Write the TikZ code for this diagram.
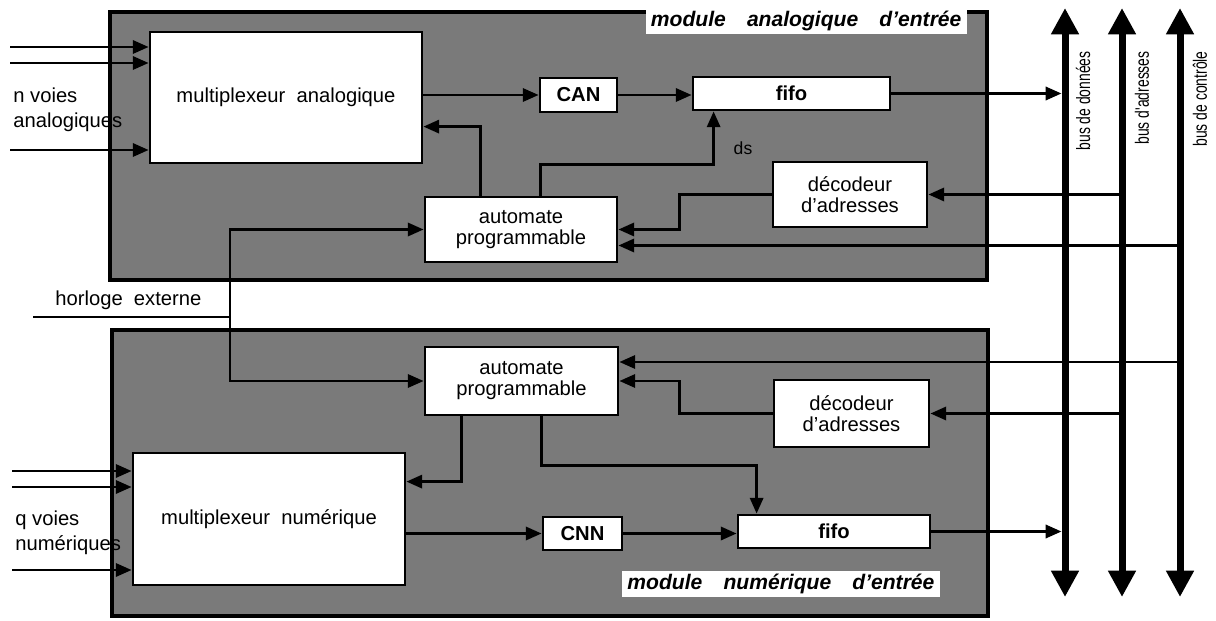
\documentclass[tikz,border=0pt]{standalone}
\usepackage{fontspec}
\setmainfont{Liberation Sans}
\newfontfamily\narrowsans{Liberation Sans}[FakeStretch=0.72]
\usepackage{tikz}
\usetikzlibrary{arrows.meta,calc,fit}
\definecolor{halftone}{gray}{0.48}

\begin{document}
\begin{tikzpicture}[x=0.02cm,y=-0.02cm,
  module/.style={draw=black,fill=halftone,line width=2pt,inner sep=0pt},
  unit/.style={draw=black,fill=white,line width=1.6pt,inner sep=0pt,
    align=center,font=\fontsize{11.5}{12}\selectfont},
  boldunit/.style={unit,font=\fontsize{11.5}{12}\selectfont\bfseries},
  tag/.style={fill=white,inner xsep=3pt,inner ysep=1.5pt,anchor=east,
    font=\fontsize{12}{14}\selectfont\bfseries\itshape},
  txt/.style={anchor=west,align=left,inner sep=0pt,
    font=\fontsize{11.5}{14}\selectfont},
  flow/.style={-{Triangle[length=9pt,width=7.5pt]},line width=1.6pt},
  wire/.style={line width=1.6pt},
  bus/.style={{Triangle[length=15pt,width=15pt]}-{Triangle[length=15pt,width=15pt]},
    line width=4pt},
  buslabel/.style={rotate=90,anchor=east,inner sep=0pt,
    font=\narrowsans\fontsize{11}{12}\selectfont}
]
  \useasboundingbox (0,0) rectangle (1216,621);

  % the two modules
  \node[module,fit={(110,12)(987,280)}] (modA) {};
  \node[module,fit={(112,330)(988,616)}] (modB) {};
  \node[tag] (tagA) at (967,21) {module\quad analogique\quad d'entr\'ee};
  \node[tag] (tagB) at (940,584) {module\quad num\'erique\quad d'entr\'ee};

  % module analogique
  \node[unit,minimum width=5.44cm,minimum height=2.62cm] (muxA) at (286,97.5)
    {multiplexeur~~analogique};
  \node[boldunit,minimum width=1.54cm,minimum height=0.68cm] (canA) at (578.5,95)
    {CAN};
  \node[boldunit,minimum width=3.94cm,minimum height=0.66cm] (fifoA) at (791.5,93.5)
    {fifo};
  \node[unit,minimum width=3.84cm,minimum height=1.30cm] (autoA) at (521,229.5)
    {automate\\programmable};
  \node[unit,minimum width=3.08cm,minimum height=1.30cm] (decA) at (850,194.5)
    {d\'ecodeur\\d'adresses};
  \node[font=\fontsize{10}{12}\selectfont] (dsA) at (743,148) {ds};

  % module numerique
  \node[unit,minimum width=5.44cm,minimum height=2.64cm] (muxB) at (269,519)
    {multiplexeur~~num\'erique};
  \node[boldunit,minimum width=1.58cm,minimum height=0.66cm] (cnnB) at (582.5,533.5)
    {CNN};
  \node[boldunit,minimum width=3.84cm,minimum height=0.66cm] (fifoB) at (834,531.5)
    {fifo};
  \node[unit,minimum width=3.86cm,minimum height=1.36cm] (autoB) at (521.5,381)
    {automate\\programmable};
  \node[unit,minimum width=3.10cm,minimum height=1.34cm] (decB) at (851.5,413.5)
    {d\'ecodeur\\d'adresses};

  % entrees
  \node[txt] (voiesA) at (13,110) {n voies\\analogiques};
  \node[txt] (voiesB) at (15,533) {q voies\\num\'eriques};
  \foreach \y [count=\i] in {47,63,150} {
    \coordinate (inA\i) at (10,\y);
    \draw[flow] (inA\i) -- (inA\i -| muxA.west);
  }
  \foreach \y [count=\i] in {471,487,570} {
    \coordinate (inB\i) at (12,\y);
    \draw[flow] (inB\i) -- (inB\i -| muxB.west);
  }

  % horloge
  \coordinate (clk) at (33,317);
  \coordinate (clkJ) at (230,317);
  \node[txt] (clkT) at (55,300) {horloge~~externe};
  \draw[wire] (clk) -- (clkJ);
  \draw[flow] (clkJ) |- (autoA.west);
  \draw[flow] (clkJ) |- (autoB.west);

  % bus
  \coordinate (busDt) at (1065,8);  \coordinate (busDb) at (1065,597);
  \coordinate (busAt) at (1122,8);  \coordinate (busAb) at (1122,597);
  \coordinate (busCt) at (1180,8);  \coordinate (busCb) at (1180,597);

  % chaine analogique
  \draw[flow] (muxA.east |- canA.west) -- (canA.west);
  \draw[flow] (canA.east) -- (canA.east -| fifoA.west);
  \draw[flow,shorten >=2pt] (fifoA.east) -- (fifoA.east -| busDt);
  \draw[flow] ($(autoA.north west)+(57,0)$) |- ($(muxA.north east)+(0,96)$);
  \draw[flow] ($(autoA.north west)+(117,0)$) |- ($(fifoA.south west)+(22,53)$)
    -- ($(fifoA.south west)+(22,0)$);
  \draw[flow] (decA.west) -| ($(autoA.east)+(61,0)$) -- (autoA.east);
  \draw[flow] (busAt |- decA.east) -- (decA.east);
  \coordinate (ctlA) at ($(autoA.east)+(0,16)$);
  \draw[flow] (busCt |- ctlA) -- (ctlA);

  % chaine numerique
  \draw[flow] (muxB.east |- cnnB.west) -- (cnnB.west);
  \draw[flow] (cnnB.east) -- (cnnB.east -| fifoB.west);
  \draw[flow,shorten >=2pt] (fifoB.east) -- (fifoB.east -| busDt);
  \draw[flow] ($(autoB.south west)+(38,0)$) |- ($(muxB.north east)+(0,30)$);
  \draw[flow] ($(autoB.south west)+(118,0)$) |- ($(fifoB.north west)+(20,-48)$)
    -- ($(fifoB.north west)+(20,0)$);
  \draw[flow] (decB.west) -| ($(autoB.east)+(60,0)$) -- (autoB.east);
  \draw[flow] (busAt |- decB.east) -- (decB.east);
  \coordinate (ctlB) at ($(autoB.east)+(0,-19)$);
  \draw[flow] (busCt |- ctlB) -- (ctlB);

  \draw[bus] (busDt) -- (busDb);
  \draw[bus] (busAt) -- (busAb);
  \draw[bus] (busCt) -- (busCb);
  \node[buslabel] (busDl) at (1083,51) {bus de donn\'ees};
  \node[buslabel] (busAl) at (1142,51) {bus d'adresses};
  \node[buslabel] (busCl) at (1200,51) {bus de contr\^ole};
\end{tikzpicture}
\end{document}
